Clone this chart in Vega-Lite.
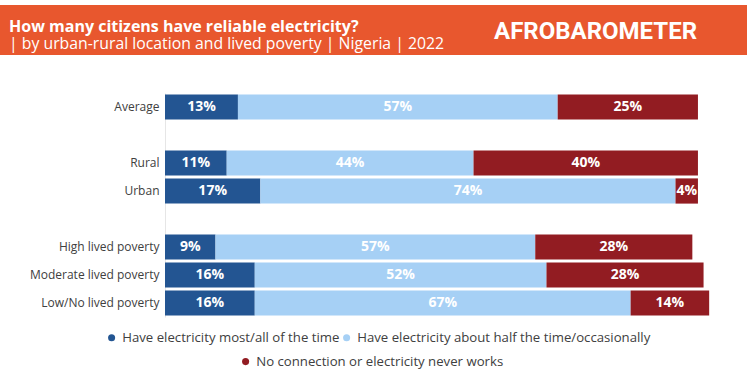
{
  "$schema": "https://vega.github.io/schema/vega-lite/v6.json",
  "background": "white",
  "padding": {"left": 0, "top": 5, "right": 0, "bottom": 1},
  "config": {"view": {"stroke": null}, "font": "Open Sans"},
  "spacing": 38,
  "resolve": {"legend": {"fill": "independent", "stroke": "independent"}},
  "vconcat": [
    {
      "spacing": 0,
      "hconcat": [
        {
          "width": 480,
          "height": 50,
          "view": {"fill": "#E8572E", "stroke": null},
          "data": {"values": [{}]},
          "mark": {"type": "text", "text": ""},
          "title": {
            "text": "How many citizens have reliable electricity?",
            "subtitle": "| by urban-rural location  and lived poverty | Nigeria | 2022",
            "anchor": "start",
            "frame": "group",
            "orient": "top",
            "offset": -47,
            "dx": 9,
            "color": "white",
            "fontSize": 16,
            "fontWeight": "bold",
            "font": "Open Sans",
            "subtitleColor": "white",
            "subtitleFontSize": 15.8,
            "subtitleFont": "Open Sans",
            "subtitlePadding": 2
          }
        },
        {
          "width": 267,
          "height": 50,
          "view": {"fill": "#E8572E", "stroke": null},
          "data": {"values": [{}]},
          "mark": {"type": "text", "text": ""},
          "title": {
            "text": "AFROBAROMETER",
            "anchor": "start",
            "frame": "group",
            "orient": "top",
            "offset": -39,
            "dx": 14,
            "color": "white",
            "fontSize": 24,
            "fontWeight": "bold",
            "font": "Roboto"
          }
        }
      ]
    },
    {
      "width": 726,
      "height": 224,
      "data": {
        "values": [
          {"group": "Average", "cat": "Have electricity most/all of the time", "k": 1, "value": 0.13},
          {"group": "Average", "cat": "Have electricity about half the time/occasionally", "k": 2, "value": 0.57},
          {"group": "Average", "cat": "No connection or electricity never works", "k": 3, "value": 0.25},
          {"group": "Rural", "cat": "Have electricity most/all of the time", "k": 1, "value": 0.11},
          {"group": "Rural", "cat": "Have electricity about half the time/occasionally", "k": 2, "value": 0.44},
          {"group": "Rural", "cat": "No connection or electricity never works", "k": 3, "value": 0.40},
          {"group": "Urban", "cat": "Have electricity most/all of the time", "k": 1, "value": 0.17},
          {"group": "Urban", "cat": "Have electricity about half the time/occasionally", "k": 2, "value": 0.74},
          {"group": "Urban", "cat": "No connection or electricity never works", "k": 3, "value": 0.04},
          {"group": "High lived poverty", "cat": "Have electricity most/all of the time", "k": 1, "value": 0.09},
          {"group": "High lived poverty", "cat": "Have electricity about half the time/occasionally", "k": 2, "value": 0.57},
          {"group": "High lived poverty", "cat": "No connection or electricity never works", "k": 3, "value": 0.28},
          {"group": "Moderate lived poverty", "cat": "Have electricity most/all of the time", "k": 1, "value": 0.16},
          {"group": "Moderate lived poverty", "cat": "Have electricity about half the time/occasionally", "k": 2, "value": 0.52},
          {"group": "Moderate lived poverty", "cat": "No connection or electricity never works", "k": 3, "value": 0.28},
          {"group": "Low/No lived poverty", "cat": "Have electricity most/all of the time", "k": 1, "value": 0.16},
          {"group": "Low/No lived poverty", "cat": "Have electricity about half the time/occasionally", "k": 2, "value": 0.67},
          {"group": "Low/No lived poverty", "cat": "No connection or electricity never works", "k": 3, "value": 0.14}
        ]
      },
      "transform": [
        {"stack": "value", "groupby": ["group"], "sort": [{"field": "k", "order": "ascending"}], "as": ["v0", "v1"]}
      ],
      "layer": [
        {
          "mark": {"type": "bar", "strokeWidth": 0},
          "encoding": {
            "y": {
              "field": "group",
              "type": "nominal",
              "scale": {
                "domain": ["Average", " ", "Rural", "Urban", "  ", "High lived poverty", "Moderate lived poverty", "Low/No lived poverty"],
                "paddingInner": 0.1,
                "paddingOuter": 0.05
              },
              "axis": {
                "title": null,
                "ticks": false,
                "offset": -165,
                "domainColor": "#e6e6e6",
                "labelFontSize": 12,
                "labelColor": "#404040",
                "labelFont": "Open Sans",
                "labelPadding": 6,
                "labelLimit": 200
              }
            },
            "x": {"field": "v0", "type": "quantitative", "scale": {"domain": [-0.29412, 1], "nice": false, "zero": false}, "axis": null},
            "x2": {"field": "v1"},
            "fill": {
              "field": "cat",
              "type": "nominal",
              "scale": {
                "domain": ["Have electricity most/all of the time", "Have electricity about half the time/occasionally", "No connection or electricity never works"],
                "range": ["#235592", "#A6D0F5", "#921C22"]
              },
              "legend": {
                "title": null,
                "orient": "none",
                "legendX": 105,
                "legendY": 238,
                "direction": "horizontal",
                "values": ["Have electricity most/all of the time", "Have electricity about half the time/occasionally"],
                "symbolType": "circle",
                "symbolSize": 50,
                "symbolStrokeWidth": 0,
                "labelFontSize": 13.2,
                "labelColor": "#404040",
                "labelFont": "Open Sans",
                "labelLimit": 400,
                "columnPadding": -12,
                "padding": 0
              }
            },
            "stroke": {
              "field": "cat",
              "type": "nominal",
              "scale": {
                "domain": ["No connection or electricity never works", "Have electricity about half the time/occasionally", "Have electricity most/all of the time"],
                "range": ["#921C22", "#A6D0F5", "#235592"]
              },
              "legend": {
                "title": null,
                "orient": "none",
                "legendX": 239,
                "legendY": 262,
                "values": ["No connection or electricity never works"],
                "symbolType": "circle",
                "symbolSize": 50,
                "symbolFillColor": "#921C22",
                "symbolStrokeWidth": 0,
                "labelFontSize": 13.2,
                "labelColor": "#404040",
                "labelFont": "Open Sans",
                "labelLimit": 400,
                "padding": 0
              }
            }
          }
        },
        {
          "transform": [{"fold": ["v0", "v1"], "as": ["edge", "pos"]}],
          "mark": {"type": "text", "color": "white", "fontWeight": "bold", "fontSize": 14, "font": "Open Sans"},
          "encoding": {
            "y": {"field": "group", "type": "nominal"},
            "x": {"field": "pos", "aggregate": "mean", "type": "quantitative"},
            "detail": {"field": "cat", "type": "nominal"},
            "text": {"field": "value", "type": "quantitative", "format": ".0%"}
          }
        }
      ]
    }
  ]
}
